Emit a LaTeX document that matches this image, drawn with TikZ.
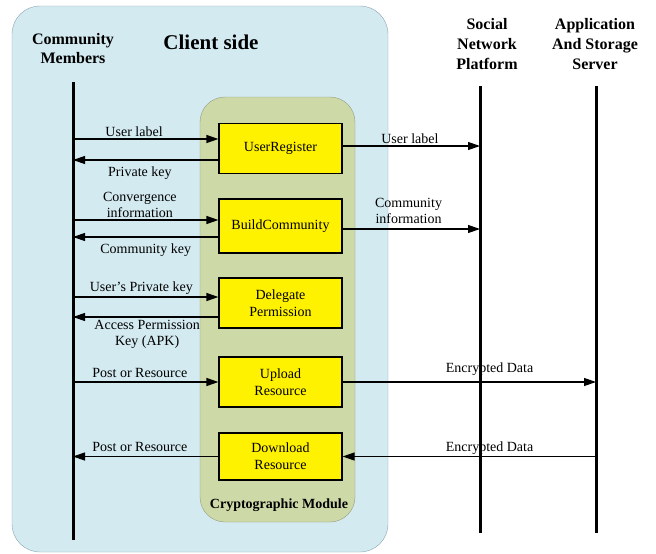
\documentclass[tikz,border=0pt]{standalone}
\usepackage{fontspec}
\setmainfont{Liberation Serif}
\usepackage{tikz}
\usetikzlibrary{arrows.meta}
\usepackage{xcolor}
\definecolor{clientfill}{RGB}{211,234,240}
\definecolor{clientdraw}{RGB}{140,165,178}
\definecolor{modulefill}{RGB}{206,217,168}
\definecolor{moduledraw}{RGB}{150,155,130}

\begin{document}
\begin{tikzpicture}[x=1pt, y=-1pt,
    txt/.style={font=\fontsize{14}{16}\selectfont, inner sep=1.5pt, align=center},
    head/.style={font=\fontsize{16}{19}\selectfont\bfseries, align=center},
    modbox/.style={draw=black, line width=1.2pt, fill=yellow, minimum width=123pt,
        minimum height=50pt, align=center, font=\fontsize{14}{17}\selectfont},
    life/.style={line width=3pt},
    msg/.style={line width=1.2pt, -{Triangle[length=12pt,width=8pt]}}]
    \useasboundingbox (0,0) rectangle (656,554);
    % Regiões
    \filldraw[fill=clientfill, draw=clientdraw, rounded corners=28pt] (12,6) rectangle (388,552);
    \filldraw[fill=modulefill, draw=moduledraw, rounded corners=25pt] (200,97) rectangle (355,522);
    % Títulos
    \node[head] (members) at (73,49) {Community\\Members};
    \node[head, font=\fontsize{21}{24}\selectfont\bfseries] (client) at (211,42) {Client side};
    \node[head, font=\fontsize{16}{20}\selectfont\bfseries] (social) at (487,44) {Social\\Network\\Platform};
    \node[head, font=\fontsize{16}{20}\selectfont\bfseries] (server) at (595,44) {Application\\And Storage\\Server};
    \node[txt, font=\fontsize{14}{16}\selectfont\bfseries] (crypto) at (279,505) {Cryptographic Module};
    % Linhas de vida
    \coordinate (memtop) at (73,82);
    \coordinate (memend) at (73,540);
    \coordinate (snptop) at (480,86);
    \coordinate (snpend) at (480,533);
    \coordinate (srvtop) at (596,86);
    \coordinate (srvend) at (596,533);
    \draw[life] (memtop) -- (memend);
    \draw[life] (snptop) -- (snpend);
    \draw[life] (srvtop) -- (srvend);
    % Módulos
    \node[modbox] (register) at (280.5,148.5) {UserRegister};
    \node[modbox, minimum height=54pt] (build) at (280.5,226) {BuildCommunity};
    \node[modbox] (delegate) at (280.5,303) {Delegate\\Permission};
    \node[modbox] (upload) at (280.5,382) {Upload\\Resource};
    \node[modbox, minimum height=47pt] (download) at (280.5,456.5) {Download\\Resource};
    % Mensagens do cliente
    \draw[msg] ([yshift=9.5pt]register.west -| memtop) -- ([yshift=9.5pt]register.west)
        node[txt, pos=0.42, above] {User label};
    \draw[msg] ([yshift=-11.5pt]register.west) -- ([yshift=-11.5pt]register.west -| memtop)
        node[txt, pos=0.54, below=5pt] {Private key};
    \draw[msg] ([yshift=6pt]build.west -| memtop) -- ([yshift=6pt]build.west)
        node[txt, pos=0.46, above] {Convergence\\information};
    \draw[msg] ([yshift=-11pt]build.west) -- ([yshift=-11pt]build.west -| memtop)
        node[txt, pos=0.5, below=5pt] {Community key};
    \draw[msg] ([yshift=6pt]delegate.west -| memtop) -- ([yshift=6pt]delegate.west)
        node[txt, pos=0.47, above] {User’s Private key};
    \draw[msg] ([yshift=-14pt]delegate.west) -- ([yshift=-14pt]delegate.west -| memtop)
        node[txt, pos=0.49, below=1pt] {Access Permission\\Key (APK)};
    \draw[msg] (upload.west -| memtop) -- (upload.west)
        node[txt, pos=0.46, above=2pt] {Post or Resource};
    \draw[msg] (download.west) -- (download.west -| memtop)
        node[txt, pos=0.54, above=3pt] {Post or Resource};
    % Mensagens para os servidores
    \draw[msg] ([yshift=2.5pt]register.east) -- ([yshift=2.5pt]register.east -| snptop)
        node[txt, pos=0.49, above] {User label};
    \draw[msg] ([yshift=-3pt]build.east) -- ([yshift=-3pt]build.east -| snptop)
        node[txt, pos=0.48, above=3pt] {Community\\information};
    \draw[msg] (upload.east) -- (upload.east -| srvtop)
        node[txt, pos=0.58, above=4pt] {Encrypted Data};
    \draw[msg] (download.east -| srvtop) -- (download.east)
        node[txt, pos=0.42, above] {Encrypted Data};
\end{tikzpicture}
\end{document}
